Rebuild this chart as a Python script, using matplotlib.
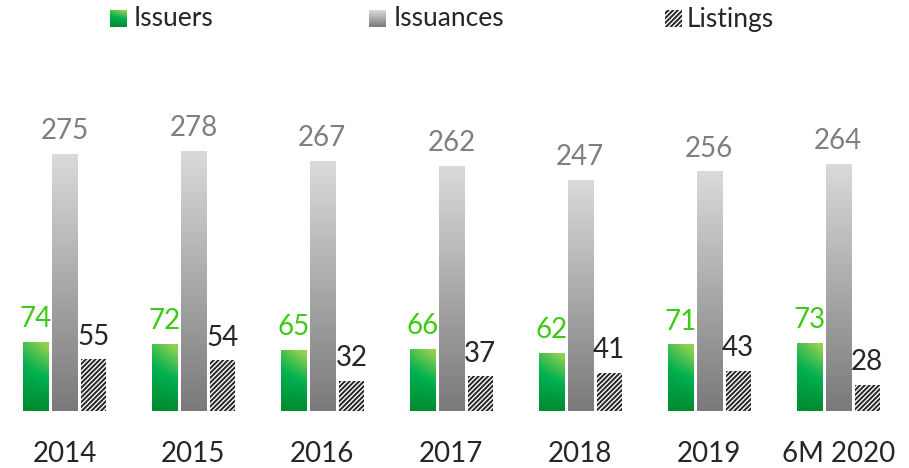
import numpy as np
import matplotlib
matplotlib.use("Agg")
import matplotlib.pyplot as plt
from matplotlib.patches import Rectangle
from matplotlib.colors import LinearSegmentedColormap

categories = ["2014", "2015", "2016", "2017", "2018", "2019", "6M 2020"]
issuers = [74, 72, 65, 66, 62, 71, 73]
issuances = [275, 278, 267, 262, 247, 256, 264]
listings = [55, 54, 32, 37, 41, 43, 28]
series_names = ["Issuers", "Issuances", "Listings"]

plt.rcParams['font.family'] = ['Lato', 'DejaVu Sans']
plt.rcParams['hatch.linewidth'] = 1.0

W, H = 909, 468
fig = plt.figure(figsize=(W / 100, H / 100), dpi=100)
ax = fig.add_axes([0.0, 0.122, 0.993, 0.60])

x = np.arange(len(categories))
w = 0.194
off = 0.225
HATCH = "///////"

green_cmap = LinearSegmentedColormap.from_list("g", ["#008A30", "#00B050", "#92D050"])
gray_cmap = LinearSegmentedColormap.from_list("k", ["#7A7A7A", "#DADADA"])

yy, xx = np.mgrid[0:1:100j, 0:1:100j]
diag = np.clip(0.75 * yy + 0.35 * xx * yy, 0, 1)
vert = yy

b1 = ax.bar(x - off, issuers, w, color="none", edgecolor="none")
b2 = ax.bar(x, issuances, w, color="none", edgecolor="none")
b3 = ax.bar(x + off, listings, w, color="#262626", edgecolor="white",
            hatch=HATCH, linewidth=0, zorder=3)

for r in b1:
    x0, y0, ww, hh = r.get_x(), r.get_y(), r.get_width(), r.get_height()
    im = ax.imshow(diag, extent=[x0, x0 + ww, y0, y0 + hh], origin="lower",
                   cmap=green_cmap, aspect="auto", zorder=2)
    im.set_clip_path(r)
for r in b2:
    x0, y0, ww, hh = r.get_x(), r.get_y(), r.get_width(), r.get_height()
    im = ax.imshow(vert, extent=[x0, x0 + ww, y0, y0 + hh], origin="lower",
                   cmap=gray_cmap, aspect="auto", zorder=2)
    im.set_clip_path(r)


def label(bars, vals, color):
    for r, v in zip(bars, vals):
        ax.annotate(str(v), (r.get_x() + r.get_width() / 2, r.get_height()),
                    xytext=(0, 7), textcoords="offset points", ha="center",
                    va="bottom", fontsize=20, color=color, clip_on=False)


label(b1, issuers, "#3CCB14")
label(b2, issuances, "#7F7F7F")
label(b3, listings, "#262626")

ax.set_xlim(-0.5, len(categories) - 0.5)
ax.set_ylim(0, 300)
ax.set_xticks(x)
ax.set_xticklabels(categories, fontsize=20, color="#262626")
ax.tick_params(axis="x", length=0, pad=22)
ax.set_yticks([])
for s in ax.spines.values():
    s.set_visible(False)

# legend drawn manually (gradient swatches)
sq = 17
sw_x = [110, 369, 665]
tx_x = [134, 394, 687]
top = 10
for i, name in enumerate(series_names):
    lax = fig.add_axes([sw_x[i] / W, 1 - (top + sq) / H, sq / W, sq / H])
    lax.set_axis_off()
    lax.set_xlim(0, 1)
    lax.set_ylim(0, 1)
    if i == 0:
        lax.imshow(diag, extent=[0, 1, 0, 1], origin="lower", cmap=green_cmap, aspect="auto")
    elif i == 1:
        lax.imshow(vert, extent=[0, 1, 0, 1], origin="lower", cmap=gray_cmap, aspect="auto")
    else:
        lax.add_patch(Rectangle((0, 0), 1, 1, facecolor="#262626", edgecolor="white",
                                hatch=HATCH, linewidth=0))
    fig.text(tx_x[i] / W, 1 - (top + sq / 2 + 0.5) / H, name, fontsize=19,
             color="#262626", ha="left", va="center")

fig.savefig("out.png", dpi=100)
